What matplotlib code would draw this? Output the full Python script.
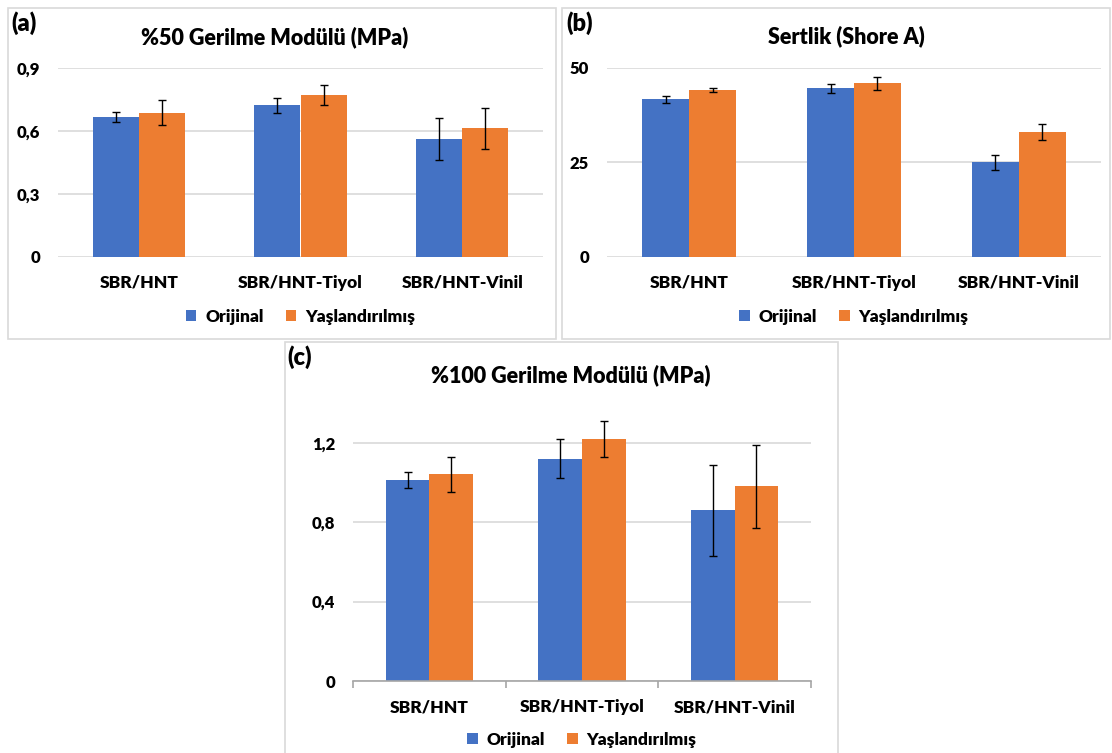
import numpy as np
import matplotlib.pyplot as plt
from matplotlib.patches import Rectangle

plt.rcParams['font.family'] = ['Lato', 'DejaVu Sans']
plt.rcParams['font.weight'] = 'bold'
FW = 'heavy'

# data
categories = ['SBR/HNT', 'SBR/HNT-Tiyol', 'SBR/HNT-Vinil']
series_names = ['Orijinal', 'Yaşlandırılmış']

mod50_orig = [0.665, 0.72, 0.56]
mod50_orig_err = [0.023, 0.037, 0.10]
mod50_aged = [0.686, 0.77, 0.611]
mod50_aged_err = [0.06, 0.047, 0.097]

shore_orig = [41.6, 44.6, 25.0]
shore_orig_err = [1.0, 1.2, 2.0]
shore_aged = [44.0, 45.9, 33.0]
shore_aged_err = [0.5, 1.7, 2.0]

mod100_orig = [1.01, 1.12, 0.86]
mod100_orig_err = [0.04, 0.10, 0.23]
mod100_aged = [1.04, 1.22, 0.98]
mod100_aged_err = [0.09, 0.09, 0.21]

BLUE = '#4472C4'
ORANGE = '#ED7D31'
GRID = '#D9D9D9'
W, H = 1112, 753

fig = plt.figure(figsize=(W / 100, H / 100), dpi=100)


def px_rect(x0, y0, x1, y1):
    # pixel box (top-left origin) -> figure fraction rect
    return [x0 / W, 1 - y1 / H, (x1 - x0) / W, (y1 - y0) / H]


def panel_box(x0, y0, x1, y1):
    fig.add_artist(Rectangle((x0 / W, 1 - y1 / H), (x1 - x0) / W, (y1 - y0) / H,
                             transform=fig.transFigure, fill=False,
                             edgecolor='#D9D9D9', linewidth=1.2))


def bar_panel(rect, orig, orig_err, aged, aged_err, yticks, ylabels, ymax,
              title, title_xy, tag, tag_xy, legend_y, axis_line=False):
    ax = fig.add_axes(px_rect(*rect))
    x = np.arange(len(categories))
    bw = 0.285
    ax.bar(x - bw / 2, orig, bw, color=BLUE, label=series_names[0], zorder=2)
    ax.bar(x + bw / 2, aged, bw, color=ORANGE, label=series_names[1], zorder=2)
    ekw = dict(fmt='none', ecolor='black', elinewidth=1.0, capsize=3, capthick=1.0, zorder=3)
    ax.errorbar(x - bw / 2, orig, yerr=orig_err, **ekw)
    ax.errorbar(x + bw / 2, aged, yerr=aged_err, **ekw)

    ax.set_xlim(-0.5, len(categories) - 0.5)
    ax.set_ylim(0, ymax)
    ax.set_yticks(yticks)
    ax.set_yticklabels(ylabels, fontsize=12, fontweight=FW)
    ax.set_xticks(x)
    ax.set_xticklabels(categories, fontsize=12.5, fontweight=FW)
    ax.tick_params(axis='y', length=0, pad=13)
    ax.tick_params(axis='x', length=0, pad=13)
    ax.grid(axis='y', color=GRID, linewidth=1.2, zorder=0)
    for s in ax.spines.values():
        s.set_visible(False)
    if axis_line:
        ax.spines['bottom'].set_visible(True)
        ax.spines['bottom'].set_color('#A6A6A6')
        ax.spines['bottom'].set_linewidth(1.2)
        ax.spines['bottom'].set_zorder(4)
        ax.set_xticks(np.arange(-0.5, len(categories)), minor=True)
        ax.tick_params(axis='x', which='minor', length=5, width=1.2, color='#A6A6A6')

    cx = (rect[0] + rect[2]) / 2 / W
    ax.legend(loc='center', bbox_to_anchor=(cx, 1 - legend_y / H), bbox_transform=fig.transFigure,
              ncol=2, frameon=False, handlelength=0.6, handleheight=0.6, handletextpad=0.5,
              columnspacing=1.3, prop={'size': 12.5, 'weight': FW})

    fig.text(title_xy[0] / W, 1 - title_xy[1] / H, title, fontsize=15.5, fontweight=FW,
             ha='center', va='center')
    fig.text(tag_xy[0] / W, 1 - tag_xy[1] / H, tag, fontsize=17, fontweight=FW,
             ha='left', va='center')
    return ax


panel_box(8, 8, 556, 339)
panel_box(562, 8, 1110, 339)
panel_box(285, 342, 838, 760)

bar_panel((58, 67.7, 543, 256.7), mod50_orig, mod50_orig_err, mod50_aged, mod50_aged_err,
          [0, 0.3, 0.6, 0.9], ['0', '0,3', '0,6', '0,9'], 0.9,
          '%50 Gerilme Modülü (MPa)', (275, 37), '(a)', (11, 23), 317)

bar_panel((607, 67.7, 1101, 256.7), shore_orig, shore_orig_err, shore_aged, shore_aged_err,
          [0, 25, 50], ['0', '25', '50'], 50,
          'Sertlik (Shore A)', (846, 36), '(b)', (566, 23), 317)

bar_panel((353, 412.9, 811, 681), mod100_orig, mod100_orig_err, mod100_aged, mod100_aged_err,
          [0, 0.4, 0.8, 1.2], ['0', '0,4', '0,8', '1,2'], 1.35,
          '%100 Gerilme Modülü (MPa)', (571, 375), '(c)', (287, 357), 740, axis_line=True)

fig.savefig('out.png', dpi=100)
